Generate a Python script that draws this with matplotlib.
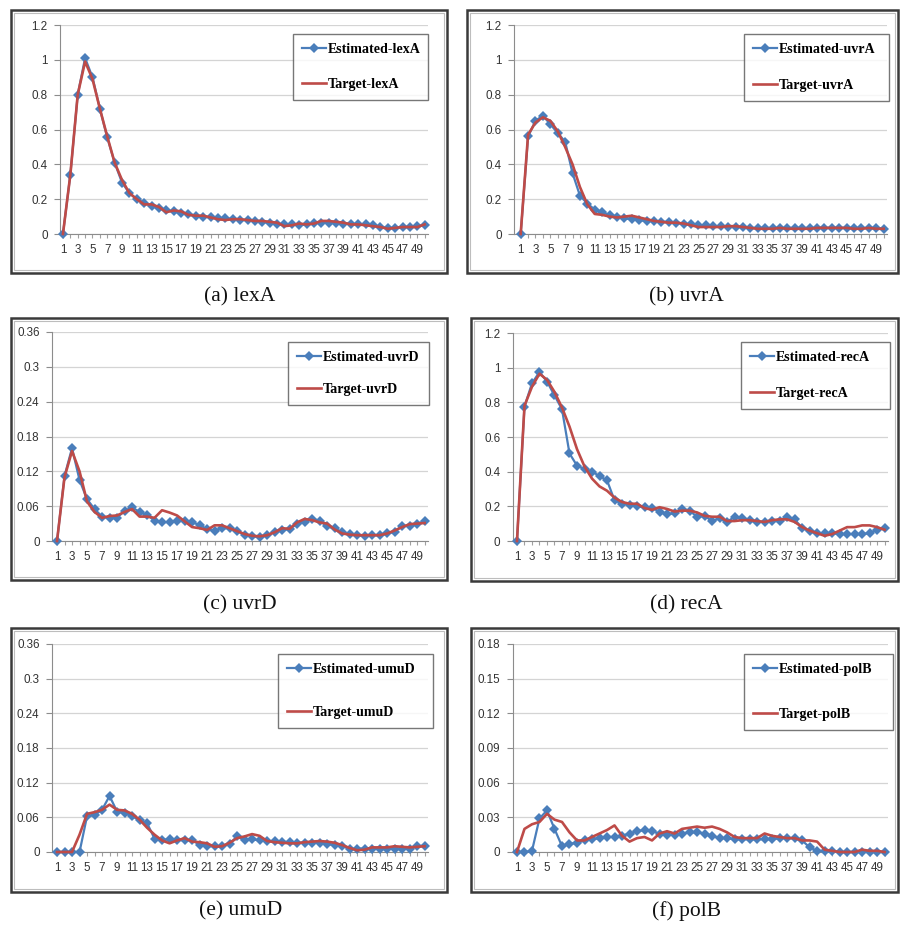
import matplotlib
matplotlib.use("Agg")
import matplotlib.pyplot as plt
from matplotlib.patches import Rectangle
from matplotlib.ticker import FixedLocator, NullFormatter

# ---------------- data ----------------
steps = list(range(1, 51))
xtick_labels = [str(i) for i in range(1, 50, 2)]

genes = ["lexA", "uvrA", "uvrD", "recA", "umuD", "polB"]
captions = ["(a) lexA", "(b) uvrA", "(c) uvrD", "(d) recA", "(e) umuD", "(f) polB"]

est_lexA = [0, 0.34, 0.80, 1.01, 0.90, 0.72, 0.555, 0.41, 0.295, 0.235,
            0.20, 0.18, 0.16, 0.15, 0.135, 0.13, 0.12, 0.115, 0.105, 0.10,
            0.095, 0.09, 0.09, 0.085, 0.08, 0.08, 0.075, 0.07, 0.065, 0.055,
            0.055, 0.055, 0.05, 0.055, 0.065, 0.065, 0.065, 0.065, 0.06, 0.06,
            0.055, 0.055, 0.05, 0.04, 0.035, 0.035, 0.04, 0.04, 0.045, 0.05]
tgt_lexA = [0, 0.34, 0.80, 0.99, 0.89, 0.72, 0.56, 0.41, 0.31, 0.235,
            0.20, 0.17, 0.17, 0.155, 0.125, 0.135, 0.13, 0.11, 0.105, 0.105,
            0.095, 0.085, 0.08, 0.085, 0.085, 0.08, 0.075, 0.075, 0.07, 0.065,
            0.045, 0.05, 0.06, 0.055, 0.06, 0.075, 0.075, 0.07, 0.065, 0.055,
            0.055, 0.05, 0.045, 0.04, 0.03, 0.035, 0.04, 0.04, 0.04, 0.055]

est_uvrA = [0, 0.56, 0.65, 0.68, 0.63, 0.58, 0.53, 0.35, 0.22, 0.175,
            0.14, 0.125, 0.11, 0.10, 0.09, 0.085, 0.08, 0.075, 0.075, 0.07,
            0.07, 0.065, 0.06, 0.055, 0.05, 0.05, 0.045, 0.045, 0.04, 0.04,
            0.04, 0.035, 0.035, 0.035, 0.035, 0.035, 0.035, 0.035, 0.035, 0.035,
            0.035, 0.035, 0.035, 0.035, 0.035, 0.035, 0.035, 0.035, 0.035, 0.03]
tgt_uvrA = [0, 0.57, 0.64, 0.67, 0.65, 0.59, 0.50, 0.40, 0.27, 0.17,
            0.115, 0.11, 0.10, 0.095, 0.10, 0.105, 0.095, 0.085, 0.075, 0.07,
            0.065, 0.065, 0.06, 0.05, 0.04, 0.04, 0.04, 0.04, 0.045, 0.045,
            0.04, 0.035, 0.03, 0.03, 0.03, 0.035, 0.03, 0.03, 0.03, 0.03,
            0.035, 0.035, 0.035, 0.035, 0.035, 0.03, 0.03, 0.035, 0.03, 0.03]

est_uvrD = [0, 0.112, 0.16, 0.105, 0.072, 0.055, 0.042, 0.04, 0.04, 0.052,
            0.058, 0.05, 0.045, 0.035, 0.032, 0.033, 0.034, 0.035, 0.032, 0.028,
            0.02, 0.018, 0.022, 0.022, 0.018, 0.01, 0.008, 0.007, 0.01, 0.016,
            0.019, 0.021, 0.029, 0.033, 0.038, 0.035, 0.025, 0.022, 0.015, 0.012,
            0.01, 0.009, 0.01, 0.01, 0.013, 0.016, 0.026, 0.026, 0.03, 0.034]
tgt_uvrD = [0, 0.11, 0.155, 0.12, 0.068, 0.05, 0.04, 0.043, 0.044, 0.05,
            0.055, 0.042, 0.042, 0.04, 0.053, 0.049, 0.044, 0.034, 0.024, 0.022,
            0.019, 0.027, 0.027, 0.022, 0.017, 0.012, 0.009, 0.008, 0.01, 0.015,
            0.022, 0.021, 0.032, 0.038, 0.036, 0.032, 0.03, 0.02, 0.013, 0.011,
            0.01, 0.01, 0.01, 0.01, 0.013, 0.018, 0.024, 0.029, 0.03, 0.031]

est_recA = [0, 0.775, 0.91, 0.975, 0.92, 0.84, 0.76, 0.505, 0.435, 0.415,
            0.40, 0.375, 0.35, 0.235, 0.215, 0.21, 0.20, 0.195, 0.19, 0.17,
            0.155, 0.16, 0.185, 0.175, 0.14, 0.145, 0.115, 0.13, 0.11, 0.14,
            0.135, 0.12, 0.11, 0.11, 0.115, 0.115, 0.14, 0.125, 0.075, 0.055,
            0.045, 0.045, 0.045, 0.04, 0.04, 0.04, 0.04, 0.045, 0.065, 0.075]
tgt_recA = [0, 0.78, 0.89, 0.965, 0.93, 0.86, 0.77, 0.66, 0.53, 0.43,
            0.36, 0.315, 0.29, 0.25, 0.225, 0.215, 0.215, 0.19, 0.18, 0.195,
            0.185, 0.17, 0.175, 0.175, 0.165, 0.145, 0.14, 0.14, 0.115, 0.115,
            0.12, 0.12, 0.115, 0.11, 0.12, 0.125, 0.125, 0.11, 0.08, 0.06,
            0.045, 0.03, 0.04, 0.06, 0.08, 0.08, 0.09, 0.09, 0.08, 0.065]

est_umuD = [0, 0, 0, 0, 0.062, 0.064, 0.073, 0.097, 0.07, 0.068,
            0.062, 0.055, 0.05, 0.023, 0.021, 0.022, 0.021, 0.02, 0.021, 0.012,
            0.01, 0.01, 0.01, 0.014, 0.027, 0.02, 0.022, 0.02, 0.019, 0.019,
            0.018, 0.017, 0.016, 0.016, 0.016, 0.016, 0.014, 0.012, 0.011, 0.005,
            0.006, 0.006, 0.006, 0.005, 0.006, 0.006, 0.005, 0.006, 0.01, 0.011]
tgt_umuD = [0, 0, 0, 0.03, 0.066, 0.069, 0.073, 0.082, 0.073, 0.072,
            0.066, 0.056, 0.042, 0.03, 0.02, 0.015, 0.02, 0.024, 0.018, 0.017,
            0.015, 0.009, 0.01, 0.016, 0.024, 0.027, 0.031, 0.028, 0.019, 0.017,
            0.016, 0.015, 0.015, 0.017, 0.018, 0.019, 0.018, 0.016, 0.012, 0.007,
            0.003, 0.004, 0.008, 0.008, 0.008, 0.01, 0.009, 0.008, 0.009, 0.01]

est_polB = [0, 0, 0.001, 0.029, 0.036, 0.02, 0.005, 0.007, 0.008, 0.01,
            0.011, 0.012, 0.013, 0.013, 0.014, 0.016, 0.018, 0.019, 0.018, 0.016,
            0.015, 0.015, 0.016, 0.017, 0.017, 0.016, 0.014, 0.012, 0.012, 0.011,
            0.011, 0.011, 0.011, 0.011, 0.011, 0.012, 0.012, 0.012, 0.01, 0.004,
            0.001, 0.001, 0.0005, 0, 0, 0, 0, 0, 0, 0]
tgt_polB = [0, 0.02, 0.024, 0.026, 0.033, 0.028, 0.026, 0.017, 0.01, 0.01,
            0.013, 0.016, 0.019, 0.023, 0.014, 0.009, 0.012, 0.013, 0.01, 0.016,
            0.018, 0.016, 0.02, 0.021, 0.022, 0.021, 0.022, 0.02, 0.017, 0.013,
            0.012, 0.012, 0.012, 0.016, 0.014, 0.013, 0.012, 0.012, 0.01, 0.01,
            0.009, 0.002, 0.001, 0, 0, 0, 0.002, 0.001, 0.001, 0]

yticks_big = [0, 0.2, 0.4, 0.6, 0.8, 1.0, 1.2]
ylabels_big = ["0", "0.2", "0.4", "0.6", "0.8", "1", "1.2"]
yticks_mid = [0, 0.06, 0.12, 0.18, 0.24, 0.30, 0.36]
ylabels_mid = ["0", "0.06", "0.12", "0.18", "0.24", "0.3", "0.36"]
yticks_small = [0, 0.03, 0.06, 0.09, 0.12, 0.15, 0.18]
ylabels_small = ["0", "0.03", "0.06", "0.09", "0.12", "0.15", "0.18"]

estimated = [est_lexA, est_uvrA, est_uvrD, est_recA, est_umuD, est_polB]
target = [tgt_lexA, tgt_uvrA, tgt_uvrD, tgt_recA, tgt_umuD, tgt_polB]
yticks = [yticks_big, yticks_big, yticks_mid, yticks_big, yticks_mid, yticks_small]
ylabels = [ylabels_big, ylabels_big, ylabels_mid, ylabels_big, ylabels_mid, ylabels_small]

# ---------------- layout (pixels) ----------------
W, H = 901, 925
BLUE = "#4A7EBB"
RED = "#BE4B48"

# (left, top, right, bottom)
axes_px = [(60, 25, 428, 234), (514, 25, 887, 234),
           (52, 332, 428, 541), (513, 333, 888, 541),
           (52, 644, 428, 852), (513, 644, 888, 852)]
xlims = [(0.6, 50.45), (0.1, 50.45), (0.33, 50.45),
         (0.47, 50.45), (0.33, 50.45), (0.47, 50.45)]
frames_px = [(11, 10, 447, 273), (467, 10, 898, 273),
             (11, 318, 447, 580), (471, 318, 898, 581),
             (11, 628, 447, 892), (471, 628, 898, 892)]
legend_px = [(293, 34, 428, 107), (744, 34, 889, 112),
             (288, 342, 429, 410), (741, 342, 890, 420),
             (278, 654, 433, 745), (744, 654, 893, 748)]
legend_spacing = [1.55, 1.65, 1.35, 1.6, 2.15, 2.25]
caption_pos = [(240, 297), (686, 297), (240, 605), (686, 605), (241, 911), (686, 911)]


def fx(px):
    return px / W


def fy(py):
    return 1 - py / H


fig = plt.figure(figsize=(W / 100, H / 100), dpi=100)
fig.patch.set_facecolor("white")

for i in range(6):
    # panel frames
    l, t, r, b = frames_px[i]
    fig.patches.append(Rectangle((fx(l), fy(b)), fx(r - l), (b - t) / H,
                                 transform=fig.transFigure, fill=False,
                                 edgecolor="#3a3a3a", linewidth=1.8, zorder=0))
    fig.patches.append(Rectangle((fx(l + 3), fy(b - 3)), fx(r - l - 6), (b - t - 6) / H,
                                 transform=fig.transFigure, fill=False,
                                 edgecolor="#bdbdbd", linewidth=0.8, zorder=0))

    l, t, r, b = axes_px[i]
    ax = fig.add_axes([fx(l), fy(b), fx(r - l), (b - t) / H])
    ax.set_facecolor("none")
    ax.plot(steps, estimated[i], color=BLUE, lw=1.6, marker="D", markersize=4.6,
            markeredgewidth=0, label="Estimated-" + genes[i], zorder=3, clip_on=False)
    ax.plot(steps, target[i], color=RED, lw=1.9, label="Target-" + genes[i],
            zorder=4, clip_on=False)

    ax.set_xlim(*xlims[i])
    ax.set_ylim(yticks[i][0], yticks[i][-1])
    ax.set_yticks(yticks[i])
    ax.set_yticklabels(ylabels[i])
    ax.set_xticks(list(range(1, 50, 2)))
    ax.set_xticklabels(xtick_labels)
    ax.xaxis.set_minor_locator(FixedLocator(steps))
    ax.xaxis.set_minor_formatter(NullFormatter())

    ax.grid(axis="y", color="#d4d4d4", linewidth=0.9, zorder=0)
    ax.set_axisbelow(True)
    for s in ["top", "right"]:
        ax.spines[s].set_visible(False)
    for s in ["left", "bottom"]:
        ax.spines[s].set_color("#8c8c8c")
        ax.spines[s].set_linewidth(0.8)
    ax.tick_params(axis="y", length=4, width=0.8, color="#8c8c8c", pad=5,
                   labelsize=8.4, labelcolor="#333333")
    ax.tick_params(axis="x", which="major", length=3, width=0.8, color="#a0a0a0",
                   pad=4, labelsize=8.4, labelcolor="#333333")
    ax.tick_params(axis="x", which="minor", length=3, width=0.8, color="#a0a0a0")
    for lab in ax.get_xticklabels() + ax.get_yticklabels():
        lab.set_fontfamily("Liberation Sans")

    # legend
    ll, lt, lr, lb = legend_px[i]
    leg = ax.legend(loc="upper left",
                    bbox_to_anchor=(fx(ll), fy(lt), fx(lr - ll), 0.0),
                    bbox_transform=fig.transFigure, mode="expand",
                    borderaxespad=0, fancybox=False, frameon=True,
                    prop={"family": "Liberation Serif", "weight": "bold", "size": 10.1},
                    labelspacing=legend_spacing[i], handlelength=1.7,
                    handletextpad=0.15, borderpad=0.65, numpoints=1)
    leg.get_frame().set_edgecolor("#555555")
    leg.get_frame().set_linewidth(1.0)
    leg.get_frame().set_facecolor("white")

    cx, cy = caption_pos[i]
    fig.text(fx(cx), fy(cy), captions[i], ha="center", va="center",
             fontsize=15.5, family="Liberation Serif", color="#111111")

fig.savefig("out.png", dpi=100, facecolor="white")
